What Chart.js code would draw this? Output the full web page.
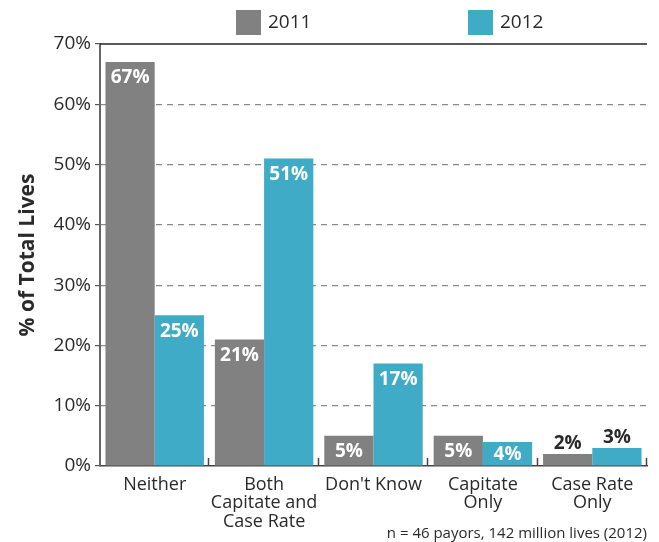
<!DOCTYPE html>
<html>
<head>
<meta charset="utf-8">
<script src="https://cdn.jsdelivr.net/npm/chart.js"></script>
<style>
  html, body { margin: 0; padding: 0; background: #fff; }
  #wrap { width: 659px; height: 542px; }
</style>
</head>
<body>
<div id="wrap"><canvas id="livesChart" width="659" height="542"></canvas></div>
<script>
// payor reimbursement approach, share of total lives
const categories = ['Neither', ['Both', 'Capitate and', 'Case Rate'], "Don't Know", ['Capitate', 'Only'], ['Case Rate', 'Only']];
const seriesNames = ['2011', '2012'];
const values2011 = [67, 21, 5, 5, 2];
const values2012 = [25, 51, 17, 4, 3];
const yTicks = [0, 10, 20, 30, 40, 50, 60, 70];

const GRAY = '#818181';
const TEAL = '#3fabc6';
const INK = '#2a2a2a';
const FONT = "'Open Sans', sans-serif";

// value labels on the bars, legend, category separators and footnote
const decorations = {
    id: 'decorations',
    afterDatasetsDraw(chart) {
        const { ctx, chartArea, scales } = chart;
        ctx.save();

        chart.data.datasets.forEach((ds, di) => {
            chart.getDatasetMeta(di).data.forEach((bar, i) => {
                const v = ds.data[i];
                ctx.font = "bold 19px " + FONT;
                ctx.textAlign = 'center';
                ctx.textBaseline = 'middle';
                if (v >= 4) {
                    ctx.fillStyle = '#ffffff';
                    const mid = (bar.y + bar.base) / 2 + 1;
                    ctx.fillText(v + '%', bar.x, Math.min(bar.y + 16, mid));
                } else {
                    ctx.fillStyle = INK;
                    ctx.fillText(v + '%', bar.x, bar.y - 10);
                }
            });
        });

        // solid line along the top of the plot
        ctx.strokeStyle = '#222';
        ctx.lineWidth = 1.5;
        ctx.beginPath();
        ctx.moveTo(chartArea.left, chartArea.top);
        ctx.lineTo(chartArea.right, chartArea.top);
        ctx.stroke();

        // short upward marks between categories
        const x = scales.x;
        const step = x.width / categories.length;
        ctx.strokeStyle = '#444';
        ctx.lineWidth = 1.5;
        for (let i = 1; i <= categories.length; i++) {
            const px = Math.round(x.left + step * i) - 0.5;
            ctx.beginPath();
            ctx.moveTo(px, chartArea.bottom);
            ctx.lineTo(px, chartArea.bottom - 8);
            ctx.stroke();
        }

        // legend
        const colors = [GRAY, TEAL];
        const legendX = [236, 468];
        ctx.font = "19px " + FONT;
        ctx.textAlign = 'left';
        ctx.textBaseline = 'middle';
        seriesNames.forEach((name, i) => {
            ctx.fillStyle = colors[i];
            ctx.fillRect(legendX[i], 10, 25, 25);
            ctx.fillStyle = INK;
            ctx.fillText(name, legendX[i] + 32, 23);
        });

        // footnote
        ctx.font = "15px " + FONT;
        ctx.textAlign = 'right';
        ctx.fillStyle = INK;
        ctx.fillText('n = 46 payors, 142 million lives (2012)', chartArea.right, 534);

        ctx.restore();
    }
};

new Chart(document.getElementById('livesChart'), {
    type: 'bar',
    data: {
        labels: categories,
        datasets: [
            { label: seriesNames[0], data: values2011, backgroundColor: GRAY },
            { label: seriesNames[1], data: values2012, backgroundColor: TEAL }
        ]
    },
    options: {
        responsive: false,
        animation: false,
        layout: { padding: { top: 44, right: 12, left: 0, bottom: 0 } },
        datasets: { bar: { categoryPercentage: 0.9, barPercentage: 1.0 } },
        plugins: {
            legend: { display: false },
            tooltip: { enabled: false }
        },
        scales: {
            x: {
                afterFit: (scale) => { scale.height = 76; },
                grid: { display: false },
                border: { display: true, color: '#444', width: 1.5 },
                ticks: {
                    color: INK,
                    padding: 1,
                    font: { family: FONT, size: 18, lineHeight: 1.05 },
                    maxRotation: 0,
                    autoSkip: false
                }
            },
            y: {
                min: 0,
                max: 70,
                afterFit: (scale) => { scale.width = 100; },
                afterBuildTicks: (scale) => { scale.ticks = yTicks.map(v => ({ value: v })); },
                grid: {
                    color: (c) => (c.tick && (c.tick.value === 0 || c.tick.value === 70)) ? 'rgba(0,0,0,0)' : '#8a8a8a',
                    tickColor: '#555',
                    tickLength: 5,
                    lineWidth: 1.2
                },
                border: { display: true, color: '#666', width: 2, dash: [6, 5] },
                ticks: {
                    color: INK,
                    padding: 4,
                    font: { family: FONT, size: 19 },
                    callback: (v) => v + '%'
                },
                title: {
                    display: true,
                    text: '% of Total Lives',
                    color: INK,
                    font: { family: FONT, size: 21, weight: 'bold' },
                    padding: { top: 15, bottom: 0 }
                }
            }
        }
    },
    plugins: [decorations]
});
</script>
</body>
</html>
